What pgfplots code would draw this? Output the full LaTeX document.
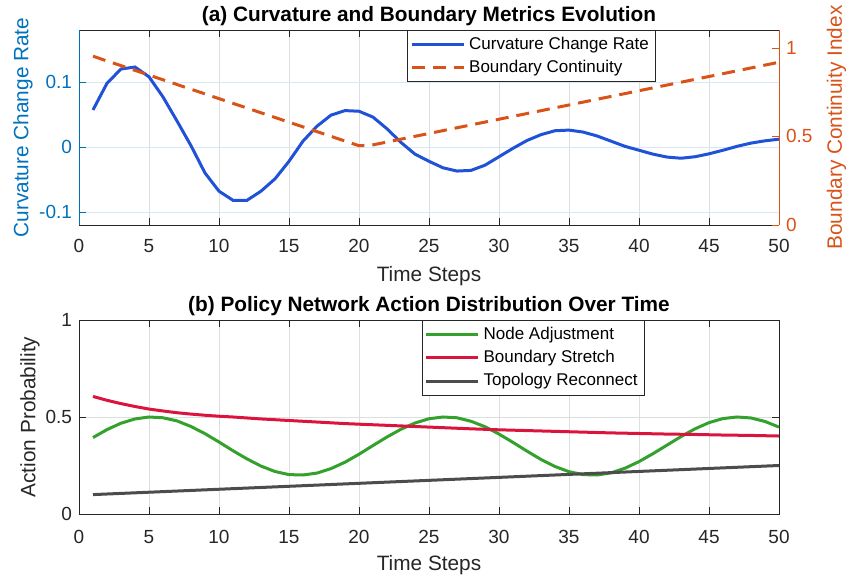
\documentclass[border=0pt]{standalone}
\usepackage{pgfplots}
\pgfplotsset{compat=1.18}
\usepackage{pgfplotstable}
\usepackage{fontspec}
\setmainfont{Liberation Sans}
\definecolor{mblue}{rgb}{0,0.447,0.741}
\definecolor{morange}{rgb}{0.85,0.325,0.098}
\definecolor{cblue}{rgb}{0.12,0.32,0.84}
\definecolor{cgreen}{rgb}{0.2,0.63,0.17}
\definecolor{cred}{rgb}{0.86,0.08,0.24}
\definecolor{cgray}{rgb}{0.3,0.3,0.3}
\definecolor{axgray}{rgb}{0.15,0.15,0.15}
\definecolor{gridgray}{rgb}{0.87,0.87,0.87}
\definecolor{gridblue}{rgb}{0.84,0.91,0.96}

\pgfplotstableread{
t c
1 0.057
2 0.098
3 0.120
4 0.123
5 0.108
6 0.077
7 0.040
8 0.002
9 -0.040
10 -0.068
11 -0.082
12 -0.082
13 -0.068
14 -0.049
15 -0.022
16 0.009
17 0.032
18 0.049
19 0.056
20 0.055
21 0.046
22 0.028
23 0.007
24 -0.011
25 -0.022
26 -0.032
27 -0.037
28 -0.036
29 -0.028
30 -0.015
31 -0.002
32 0.010
33 0.019
34 0.025
35 0.026
36 0.023
37 0.017
38 0.009
39 0.001
40 -0.005
41 -0.011
42 -0.0155
43 -0.0173
44 -0.015
45 -0.0105
46 -0.005
47 0.001
48 0.006
49 0.0095
50 0.012
}\curv

\pgfplotstableread{
t b
1 0.952
20 0.447
21 0.452
50 0.918
}\bnd

\pgfplotstableread{
t g r
1 0.394 0.606
2 0.435 0.586
3 0.468 0.569
4 0.490 0.554
5 0.500 0.541
6 0.496 0.531
7 0.480 0.522
8 0.451 0.515
9 0.414 0.509
10 0.371 0.504
11 0.326 0.500
12 0.284 0.495
13 0.247 0.490
14 0.219 0.486
15 0.203 0.482
16 0.201 0.478
17 0.211 0.474
18 0.234 0.470
19 0.267 0.466
20 0.308 0.463
21 0.353 0.460
22 0.397 0.457
23 0.437 0.454
24 0.469 0.451
25 0.491 0.448
26 0.500 0.445
27 0.496 0.442
28 0.478 0.439
29 0.450 0.4365
30 0.412 0.434
31 0.369 0.432
32 0.324 0.430
33 0.281 0.428
34 0.245 0.426
35 0.218 0.424
36 0.203 0.422
37 0.201 0.420
38 0.212 0.418
39 0.236 0.4165
40 0.270 0.415
41 0.311 0.4135
42 0.355 0.412
43 0.399 0.411
44 0.439 0.410
45 0.471 0.4085
46 0.492 0.407
47 0.500 0.406
48 0.495 0.405
49 0.477 0.4035
50 0.448 0.402
}\act

\pgfplotsset{
 every axis title shift=0pt,
 every axis title/.style={at={(axis description cs:0.5,1.072)}, anchor=center,
   font=\bfseries\fontsize{10.4}{12}\selectfont, text=black},
 base/.style={
  scale only axis, width=350pt,
  xmin=0, xmax=50, xtick={0,5,...,50},
  tick align=inside,
  major tick length=3.5pt,
  /pgf/number format/assume math mode=true,
  ticklabel style={font=\fontsize{9.5}{11}\selectfont, color=axgray},
  xticklabel style={yshift=-3.5pt},
  label style={font=\fontsize{10.4}{12}\selectfont, color=axgray},
  xlabel style={at={(axis description cs:0.5,-0.262)}, anchor=center},
  legend style={font=\fontsize{8.5}{10}\selectfont, draw=axgray, line width=0.5pt, fill=white, inner sep=1.2pt},
  legend cell align=left,
  legend image code/.code={\draw[#1] (0pt,0pt) -- (26pt,0pt);},
  every axis plot/.append style={line width=1.5pt},
  every axis x grid/.append style={draw=gridgray, line width=0.4pt},
  every axis y grid/.append style={draw=gridblue, line width=0.4pt},
 }
}

\begin{document}
\begin{tikzpicture}
\path[use as bounding box] (0,0) rectangle (423pt,-288pt);

% ---- (a) left axis
\begin{axis}[base, at={(39.5pt,-112.5pt)}, anchor=south west, height=97.5pt,
  ymin=-0.12, ymax=0.18, ytick={-0.1,0,0.1},
  axis x line*=box, axis y line*=left,
  x axis line style={draw=axgray,-}, y axis line style={draw=mblue,-},
  xtick style={draw=axgray}, ytick style={draw=mblue},
  yticklabel style={color=mblue},
  xmajorgrids, ymajorgrids,
  ylabel={Curvature Change Rate},
  ylabel style={color=mblue, at={(axis description cs:-0.08,0.5)}, anchor=center},
  xlabel={Time Steps},
  title={(a) Curvature and Boundary Metrics Evolution}]
\addplot[cblue, line width=1.5pt] table[x=t, y=c] {\curv};
\end{axis}

% ---- (a) right axis
\begin{axis}[base, at={(39.5pt,-112.5pt)}, anchor=south west, height=97.5pt,
  ymin=0, ymax=1.1, ytick={0,0.5,1},
  axis x line=none, axis y line*=right,
  y axis line style={draw=morange,-}, ytick style={draw=morange},
  yticklabel style={color=morange},
  ylabel={Boundary Continuity Index},
  ylabel style={color=morange, at={(axis description cs:1.082,0.5)}, anchor=center, rotate=0},
  legend style={at={(0.469,1)}, anchor=north west}]
\addlegendimage{cblue, line width=1.5pt}
\addlegendentry{Curvature Change Rate}
\addplot[morange, line width=1.5pt, dash pattern=on 6.5pt off 4pt] table[x=t, y=b] {\bnd};
\addlegendentry{Boundary Continuity}
\end{axis}

% ---- (b)
\begin{axis}[base, at={(39.5pt,-257pt)}, anchor=south west, height=97pt,
  ymin=0, ymax=1, ytick={0,0.5,1},
  xticklabel style={yshift=-1pt},
  axis line style={draw=axgray}, tick style={draw=axgray},
  xmajorgrids, ymajorgrids,
  every axis y grid/.append style={draw=gridgray},
  ylabel={Action Probability},
  ylabel style={at={(axis description cs:-0.07,0.5)}, anchor=center},
  xlabel={Time Steps},
  title={(b) Policy Network Action Distribution Over Time},
  legend style={at={(0.4896,1)}, anchor=north west}]
\addplot[cgreen] table[x=t, y=g] {\act};
\addlegendentry{Node Adjustment}
\addplot[cred] table[x=t, y=r] {\act};
\addlegendentry{Boundary Stretch}
\addplot[cgray] coordinates {(1,0.1) (50,0.25)};
\addlegendentry{Topology Reconnect}
\end{axis}
\end{tikzpicture}
\end{document}
